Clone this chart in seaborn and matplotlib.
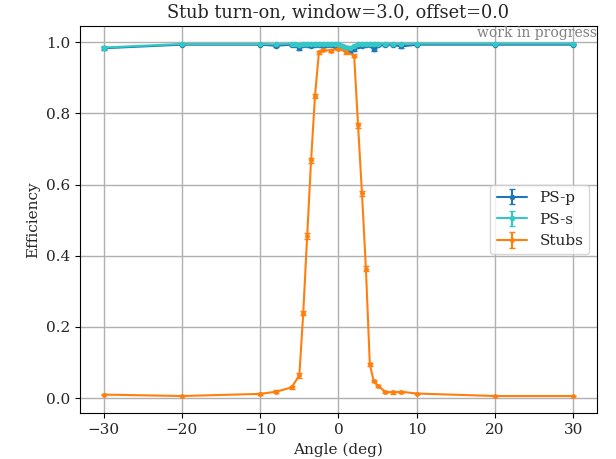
import matplotlib
matplotlib.use("Agg")
import matplotlib.pyplot as plt
import seaborn as sns
import numpy as np

# angle scan points
ps_angle = [-30, -20, -10, -8, -6, -5.5, -5, -4.5, -4, -3.5, -3, -2.5, -2, -1.5, -1, -0.5, 0,
            0.5, 1, 1.5, 2, 2.5, 3, 3.5, 4, 4.5, 5, 6, 7, 8, 10, 20, 30]
ps_p_eff = [0.983, 0.993, 0.993, 0.990, 0.993, 0.992, 0.984, 0.991, 0.992, 0.990, 0.991, 0.992,
            0.990, 0.991, 0.992, 0.990, 0.992, 0.988, 0.984, 0.975, 0.980, 0.990, 0.990, 0.992,
            0.991, 0.980, 0.991, 0.993, 0.993, 0.988, 0.993, 0.993, 0.993]
ps_p_err = [0.004, 0.002, 0.002, 0.003, 0.003, 0.003, 0.005, 0.003, 0.003, 0.003, 0.003, 0.003,
            0.003, 0.003, 0.003, 0.003, 0.003, 0.003, 0.004, 0.005, 0.004, 0.003, 0.003, 0.003,
            0.003, 0.005, 0.003, 0.003, 0.003, 0.003, 0.002, 0.002, 0.002]
ps_s_eff = [0.985, 0.995, 0.995, 0.994, 0.996, 0.995, 0.993, 0.995, 0.996, 0.995, 0.996, 0.996,
            0.995, 0.996, 0.995, 0.996, 0.996, 0.990, 0.985, 0.984, 0.988, 0.995, 0.996, 0.996,
            0.995, 0.994, 0.996, 0.996, 0.996, 0.995, 0.996, 0.996, 0.996]
ps_s_err = [0.003, 0.002, 0.002, 0.002, 0.002, 0.002, 0.003, 0.002, 0.002, 0.002, 0.002, 0.002,
            0.002, 0.002, 0.002, 0.002, 0.002, 0.003, 0.003, 0.003, 0.003, 0.002, 0.002, 0.002,
            0.002, 0.003, 0.002, 0.002, 0.002, 0.002, 0.002, 0.002, 0.002]

stub_angle = [-30, -20, -10, -8, -6, -5, -4.5, -4, -3.5, -3, -2.5, -2, -1, 0, 1, 2,
              2.5, 3, 3.5, 4, 4.5, 5, 6, 7, 8, 10, 20, 30]
stub_eff = [0.010, 0.006, 0.012, 0.018, 0.030, 0.064, 0.239, 0.456, 0.668, 0.849, 0.972, 0.978,
            0.976, 0.982, 0.972, 0.962, 0.766, 0.575, 0.364, 0.095, 0.048, 0.035, 0.018, 0.016,
            0.018, 0.013, 0.006, 0.006]
stub_err = [0.002, 0.001, 0.002, 0.004, 0.004, 0.007, 0.006, 0.009, 0.008, 0.006, 0.004, 0.004,
            0.004, 0.004, 0.004, 0.005, 0.006, 0.007, 0.006, 0.005, 0.004, 0.003, 0.003, 0.003,
            0.003, 0.002, 0.001, 0.001]

sns.set_theme(style="ticks", rc={"axes.grid": True, "grid.color": "#b0b0b0",
                                 "axes.edgecolor": "black", "axes.linewidth": 0.8,
                                 "xtick.direction": "out", "ytick.direction": "out"})
plt.rcParams["font.family"] = ["DejaVu Serif"]

fig, ax = plt.subplots(figsize=(6.16, 4.59), dpi=100)
fig.subplots_adjust(left=0.130, right=0.969, top=0.943, bottom=0.10)

pal = sns.color_palette("tab10")
ax.errorbar(ps_angle, ps_p_eff, yerr=ps_p_err, fmt=".-", color=pal[0], capsize=2,
            markersize=6, label="PS-p")
ax.errorbar(ps_angle, ps_s_eff, yerr=ps_s_err, fmt=".-", color="#33c8c6", capsize=2,
            markersize=6, label="PS-s")
ax.errorbar(stub_angle, stub_eff, yerr=stub_err, fmt=".-", color=pal[1], capsize=2,
            markersize=5, label="Stubs")

ax.set_title("Stub turn-on, window=3.0, offset=0.0", fontsize=12.8)
ax.set_xlabel("Angle (deg)", fontsize=11)
ax.set_ylabel("Efficiency", fontsize=11)
ax.tick_params(labelsize=11, length=3.5, width=0.8, color="black")
ax.set_xticks([-30, -20, -10, 0, 10, 20, 30])
ax.set_yticks([0.0, 0.2, 0.4, 0.6, 0.8, 1.0])
ax.set_xlim(-33.0, 33.0)
ax.set_ylim(-0.042, 1.045)
ax.text(1.0, 1.0, "work in progress", transform=ax.transAxes, ha="right", va="top",
        color="gray", fontsize=10)
ax.legend(loc="center right", fontsize=11)

fig.savefig("out.png", dpi=100)
